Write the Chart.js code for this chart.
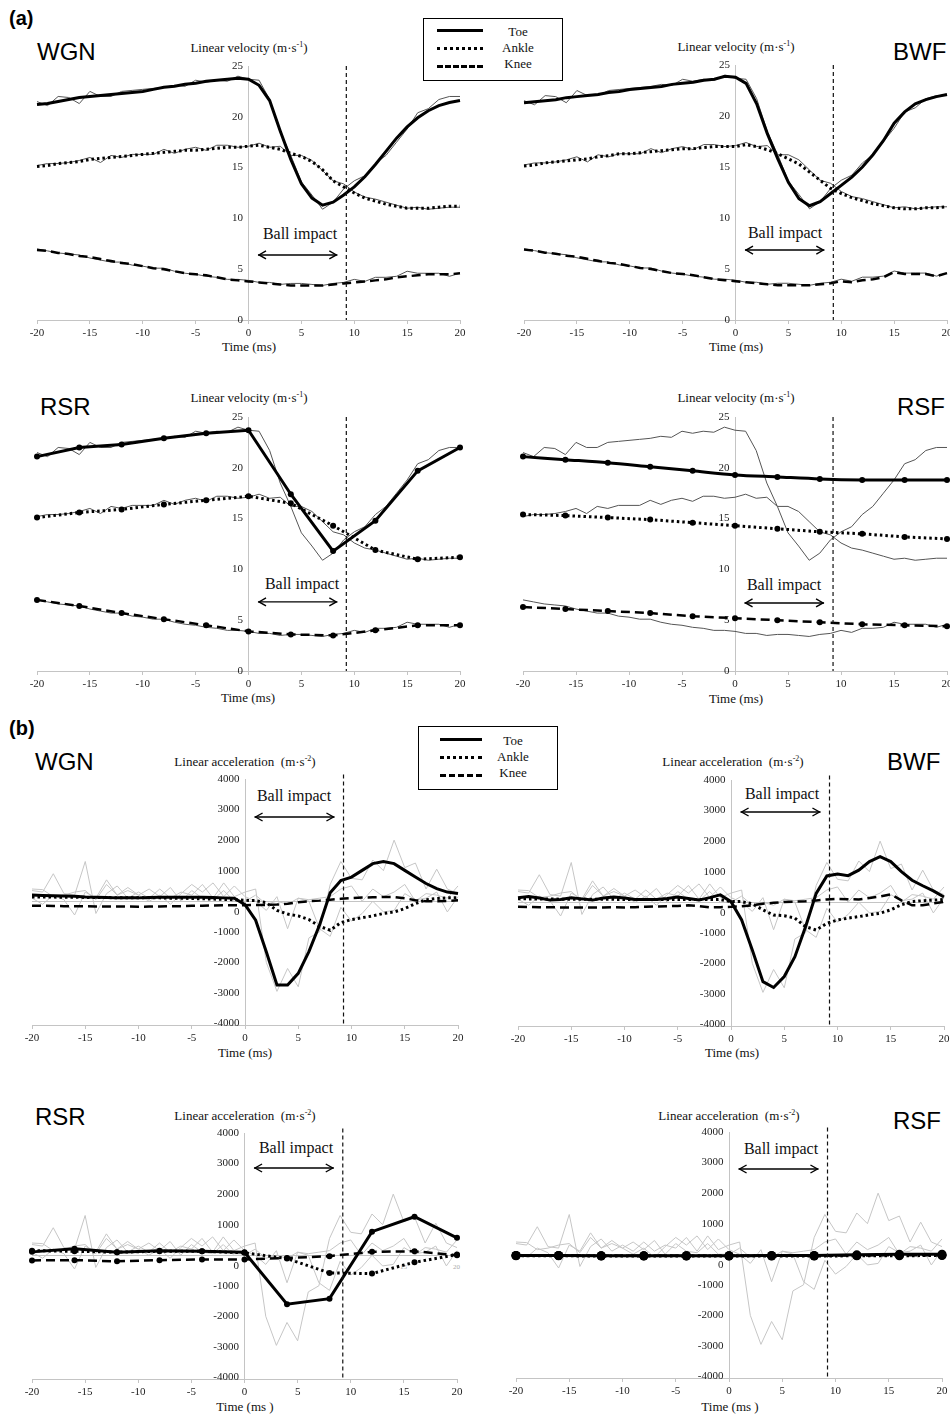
<!DOCTYPE html>
<html><head><meta charset="utf-8">
<script src="https://cdn.jsdelivr.net/npm/chart.js@4.4.1/dist/chart.umd.min.js"></script>
<style>
html,body{margin:0;padding:0;background:#fff;width:950px;height:1415px;overflow:hidden;position:relative}
canvas{position:absolute;left:0;top:0}
.t{position:absolute;white-space:nowrap;color:#111}
.serif{font-family:'Liberation Serif','Times New Roman',serif}
.c{transform:translateX(-50%)}
.ttl{font-size:13px;line-height:15px}
.ttl sup{font-size:8px;line-height:0;vertical-align:5px}
.bi{font-size:16px;line-height:18px}
.lab{font-family:'Liberation Sans',Arial,sans-serif;font-size:24px;line-height:24px;color:#000}
.ab{font-family:'Liberation Sans',Arial,sans-serif;font-weight:bold;font-size:20px;line-height:22px;color:#000}
.leg{position:absolute;border:1.5px solid #000;background:#fff;box-sizing:border-box}
.ls{position:absolute;height:0}
</style></head>
<body>
<div class="t ab" style="left:9px;top:7px">(a)</div>
<div class="t ab" style="left:9px;top:717px">(b)</div>

<div class="t lab" style="left:37px;top:40px">WGN</div>
<div class="t lab" style="left:893px;top:40px">BWF</div>
<div class="t lab" style="left:40px;top:395px">RSR</div>
<div class="t lab" style="left:897px;top:395px">RSF</div>
<div class="t lab" style="left:35px;top:750px">WGN</div>
<div class="t lab" style="left:887px;top:750px">BWF</div>
<div class="t lab" style="left:35px;top:1105px">RSR</div>
<div class="t lab" style="left:893px;top:1109px">RSF</div>

<div class="t serif ttl c" style="left:249px;top:40px">Linear velocity (m·s<sup>-1</sup>)</div>
<div class="t serif ttl c" style="left:736px;top:39px">Linear velocity (m·s<sup>-1</sup>)</div>
<div class="t serif ttl c" style="left:249px;top:390px">Linear velocity (m·s<sup>-1</sup>)</div>
<div class="t serif ttl c" style="left:736px;top:390px">Linear velocity (m·s<sup>-1</sup>)</div>
<div class="t serif ttl c" style="left:245px;top:754px">Linear acceleration&nbsp; (m·s<sup>-2</sup>)</div>
<div class="t serif ttl c" style="left:733px;top:754px">Linear acceleration&nbsp; (m·s<sup>-2</sup>)</div>
<div class="t serif ttl c" style="left:245px;top:1108px">Linear acceleration&nbsp; (m·s<sup>-2</sup>)</div>
<div class="t serif ttl c" style="left:729px;top:1108px">Linear acceleration&nbsp; (m·s<sup>-2</sup>)</div>

<div class="t serif ttl c" style="left:249px;top:339px">Time (ms)</div>
<div class="t serif ttl c" style="left:736px;top:339px">Time (ms)</div>
<div class="t serif ttl c" style="left:248px;top:690px">Time (ms)</div>
<div class="t serif ttl c" style="left:736px;top:691px">Time (ms)</div>
<div class="t serif ttl c" style="left:245px;top:1045px">Time (ms)</div>
<div class="t serif ttl c" style="left:732px;top:1045px">Time (ms)</div>
<div class="t serif ttl c" style="left:245px;top:1399px">Time (ms )</div>
<div class="t serif ttl c" style="left:730px;top:1399px">Time (ms )</div>

<div class="t serif bi c" style="left:300px;top:225px">Ball impact</div>
<div class="t serif bi c" style="left:785px;top:224px">Ball impact</div>
<div class="t serif bi c" style="left:302px;top:575px">Ball impact</div>
<div class="t serif bi c" style="left:784px;top:576px">Ball impact</div>
<div class="t serif bi c" style="left:294px;top:787px">Ball impact</div>
<div class="t serif bi c" style="left:782px;top:785px">Ball impact</div>
<div class="t serif bi c" style="left:296px;top:1139px">Ball impact</div>
<div class="t serif bi c" style="left:781px;top:1140px">Ball impact</div>

<div class="t serif" style="left:400px;top:1263px;font-size:7px;color:#aaa">15</div>
<div class="t serif" style="left:453px;top:1263px;font-size:7px;color:#aaa">20</div>

<div class="leg" style="left:423px;top:18px;width:140px;height:63px"></div>
<div class="ls" style="left:437px;top:29px;width:46px;border-top:3px solid #000"></div>
<div class="ls" style="left:437px;top:47px;width:46px;border-top:3px dotted #000"></div>
<div class="ls" style="left:437px;top:65px;width:46px;border-top:3px dashed #000"></div>
<div class="t serif ttl c" style="left:518px;top:24px">Toe</div>
<div class="t serif ttl c" style="left:518px;top:40px">Ankle</div>
<div class="t serif ttl c" style="left:518px;top:56px">Knee</div>

<div class="leg" style="left:418px;top:726px;width:140px;height:64px"></div>
<div class="ls" style="left:440px;top:738px;width:42px;border-top:3px solid #000"></div>
<div class="ls" style="left:440px;top:756px;width:42px;border-top:3px dotted #000"></div>
<div class="ls" style="left:440px;top:774px;width:42px;border-top:3px dashed #000"></div>
<div class="t serif ttl c" style="left:513px;top:733px">Toe</div>
<div class="t serif ttl c" style="left:513px;top:749px">Ankle</div>
<div class="t serif ttl c" style="left:513px;top:765px">Knee</div>

<script>
// ---------- axes / categories ----------
const timeMs = [-20,-19,-18,-17,-16,-15,-14,-13,-12,-11,-10,-9,-8,-7,-6,-5,-4,-3,-2,-1,0,1,2,3,4,5,6,7,8,9,10,11,12,13,14,15,16,17,18,19,20];
const time4 = [-20,-16,-12,-8,-4,0,4,8,12,16,20];
const xTicks = [-20,-15,-10,-5,0,5,10,15,20];
const velTicks = [0,5,10,15,20,25];
const accTicks = [-4000,-3000,-2000,-1000,0,1000,2000,3000,4000];
const impactTime = 9.25;
const arrowFrom = 0.9, arrowTo = 8.4;

// ---------- raw (unfiltered) velocity ----------
const velRawToe   = [21.5,21.1,22.0,21.9,21.3,22.5,22.0,22.0,22.5,22.6,22.7,22.8,22.9,23.1,23.0,23.6,23.4,23.6,23.5,24.0,23.7,23.6,21.7,18.5,16.2,13.6,12.3,10.9,11.6,12.9,13.7,14.2,15.4,16.2,17.5,18.8,20.4,20.8,21.7,22.0,22.0];
const velRawAnkle = [15.2,15.4,15.4,15.5,15.7,16.0,15.5,16.2,16.0,16.3,16.3,16.3,16.8,16.4,16.8,17.0,16.7,17.2,17.2,17.0,17.1,17.4,17.0,17.1,16.2,16.2,15.7,14.7,13.7,13.4,12.6,12.1,11.9,11.6,11.3,11.0,11.1,10.9,11.0,11.1,11.1];
const velRawKnee  = [7.0,6.8,6.6,6.5,6.4,6.1,5.9,5.7,5.7,5.4,5.3,5.1,5.1,4.8,4.6,4.5,4.3,4.2,4.0,4.0,3.9,3.7,3.7,3.5,3.6,3.6,3.5,3.4,3.6,3.7,4.0,3.8,4.2,4.2,4.3,4.8,4.6,4.6,4.6,4.3,4.6];

// ---------- filtered velocity ----------
const wgnVelToe   = [21.2,21.3,21.5,21.7,21.9,22.0,22.1,22.2,22.3,22.4,22.5,22.7,22.9,23.0,23.2,23.3,23.5,23.6,23.7,23.8,23.7,23.1,21.6,18.6,15.8,13.4,12.0,11.3,11.6,12.3,13.1,14.1,15.3,16.6,17.9,19.0,19.9,20.6,21.1,21.4,21.6];
const wgnVelAnkle = [15.1,15.2,15.4,15.5,15.6,15.8,15.9,16.0,16.1,16.2,16.3,16.4,16.5,16.6,16.7,16.7,16.8,16.9,17.0,17.0,17.1,17.2,17.0,16.8,16.4,16.1,15.6,14.8,13.7,13.1,12.5,12.0,11.7,11.4,11.2,11.0,11.0,11.0,11.1,11.2,11.2];
const wgnVelKnee  = [6.9,6.8,6.6,6.5,6.3,6.2,6.0,5.8,5.6,5.5,5.3,5.1,5.0,4.8,4.6,4.5,4.4,4.2,4.0,3.9,3.8,3.7,3.6,3.5,3.4,3.4,3.4,3.4,3.5,3.6,3.7,3.8,3.9,4.0,4.2,4.3,4.4,4.5,4.5,4.5,4.6];
const bwfVelToe   = [21.3,21.4,21.5,21.6,21.8,21.9,22.0,22.1,22.3,22.4,22.6,22.7,22.8,22.9,23.1,23.2,23.3,23.5,23.6,23.9,23.8,23.2,21.2,18.3,15.8,13.5,11.9,11.2,11.6,12.4,13.2,14.0,15.0,16.2,17.6,19.3,20.4,21.2,21.6,21.9,22.1];
const bwfVelAnkle = [15.1,15.2,15.4,15.5,15.6,15.7,15.8,16.0,16.1,16.3,16.3,16.4,16.5,16.6,16.7,16.8,16.8,16.9,17.0,17.0,17.0,17.2,17.0,16.7,16.3,15.8,15.3,14.5,13.7,12.9,12.4,12.0,11.7,11.4,11.2,11.0,10.9,10.9,11.0,11.0,11.1];
const bwfVelKnee  = [6.9,6.8,6.6,6.5,6.3,6.2,6.0,5.8,5.6,5.5,5.3,5.1,5.0,4.8,4.6,4.5,4.4,4.2,4.0,3.9,3.8,3.7,3.6,3.5,3.4,3.4,3.4,3.4,3.5,3.6,3.8,3.7,3.9,4.0,4.2,4.7,4.5,4.5,4.5,4.3,4.6];
const rsrVelToe   = [21.1,22.0,22.3,22.9,23.4,23.7,17.4,11.8,14.8,19.7,22.0];
const rsrVelAnkle = [15.1,15.6,15.9,16.4,16.8,17.2,16.5,14.3,11.9,11.0,11.2];
const rsrVelKnee  = [7.0,6.4,5.7,5.1,4.5,3.9,3.6,3.5,4.0,4.5,4.5];
const rsfVelToe   = [21.1,20.8,20.5,20.1,19.7,19.3,19.1,18.9,18.8,18.8,18.8];
const rsfVelAnkle = [15.4,15.3,15.1,14.9,14.6,14.3,14.0,13.7,13.5,13.2,13.0];
const rsfVelKnee  = [6.3,6.1,5.9,5.7,5.4,5.2,5.0,4.8,4.6,4.5,4.4];

// ---------- raw acceleration ----------
const accRawToe   = [350,300,900,250,200,1300,-400,250,500,100,300,100,400,100,300,200,550,100,600,150,300,400,-2000,-2950,-2200,-2800,-1200,-1000,550,1300,750,700,1350,1000,2000,1100,1250,400,1050,400,250];
const accRawAnkle = [100,-100,200,50,-450,300,100,700,200,350,200,0,200,-100,250,550,300,600,150,500,150,0,-300,150,-900,100,0,-900,-1150,-200,-650,-400,0,-350,-300,250,50,100,300,-350,150];
const accRawKnee  = [400,380,150,200,300,350,50,550,200,450,200,400,150,450,0,350,100,50,350,0,0,200,-100,0,-100,100,50,100,150,400,500,0,400,150,300,550,0,250,200,100,500];

// ---------- filtered acceleration ----------
const wgnAccToe   = [200,190,180,170,160,140,130,120,110,110,110,120,130,130,130,130,130,120,110,100,-110,-620,-1650,-2740,-2740,-2360,-1650,-780,280,680,790,1010,1230,1300,1230,1010,790,580,410,300,250];
const wgnAccAnkle = [140,140,135,130,130,125,120,120,115,115,110,110,110,100,100,90,80,70,60,50,30,20,-50,-300,-420,-480,-600,-820,-950,-700,-600,-540,-480,-400,-350,-240,-80,50,90,110,110];
const wgnAccKnee  = [-150,-150,-155,-160,-160,-165,-170,-170,-170,-175,-180,-175,-170,-165,-160,-150,-145,-140,-135,-130,-130,-125,-120,-110,-80,-30,0,20,50,80,100,120,130,140,140,100,30,0,0,10,30];
const bwfAccToe   = [150,190,140,70,90,150,110,70,140,170,140,90,90,90,120,170,120,70,150,240,20,-580,-1560,-2600,-2790,-2430,-1780,-800,290,860,920,870,1050,1330,1490,1330,1000,720,540,370,170];
const bwfAccAnkle = [110,110,105,105,100,100,100,95,95,95,90,90,90,90,90,90,90,90,90,90,20,20,-50,-250,-420,-440,-520,-800,-910,-690,-580,-520,-470,-410,-360,-250,-80,20,50,70,90];
const bwfAccKnee  = [-150,-155,-160,-165,-170,-170,-170,-170,-170,-165,-170,-160,-150,-140,-130,-120,-100,-130,-170,-160,-150,-130,-100,-50,-20,10,20,30,60,90,110,100,90,140,190,260,60,-100,-100,-40,10];
const rsrAccToe   = [110,210,100,150,130,100,-1600,-1420,770,1260,570];
const rsrAccAnkle = [150,130,100,130,130,80,-110,-580,-600,-230,20];
const rsrAccKnee  = [-170,-160,-200,-160,-140,-140,-90,-30,110,130,0];
const rsfAccToe   = [-40,-40,-50,-50,-50,-50,-40,-40,-20,0,0];
const rsfAccAnkle = [-50,-50,-60,-60,-60,-60,-60,-60,-50,-50,-40];
const rsfAccKnee  = [-40,-40,-50,-50,-50,-50,-50,-50,-40,-30,-30];

// ---------- helpers ----------
function pts(xs, ys){ return xs.map((x,i)=>({x:x, y:ys[i]})); }
const lineStyles = {
  toe:   {borderColor:'#000', borderWidth:3},
  ankle: {borderColor:'#000', borderWidth:3, borderDash:[2.5,3]},
  knee:  {borderColor:'#000', borderWidth:2.5, borderDash:[9,5]}
};
function thick(kind, xs, ys, r, tension){
  return Object.assign({data:pts(xs,ys), pointRadius:r||0, pointBackgroundColor:'#000', pointBorderColor:'#000',
    pointBorderWidth:0, tension:tension||0, fill:false, clip:12}, lineStyles[kind]);
}
function raw(xs, ys, color){
  return {data:pts(xs,ys), borderColor:color, borderWidth:1, pointRadius:0, tension:0, fill:false, clip:12};
}
const VRAW = '#555', ARAW = '#c6c6c6';
function velRaw(){ return [raw(timeMs,velRawToe,VRAW), raw(timeMs,velRawAnkle,VRAW), raw(timeMs,velRawKnee,VRAW)]; }
function accRaw(){ return [raw(timeMs,accRawToe,ARAW), raw(timeMs,accRawAnkle,ARAW), raw(timeMs,accRawKnee,ARAW)]; }

const impactPlugin = {
  id:'impact',
  afterDatasetsDraw(chart, args, o){
    const {ctx, chartArea} = chart, x = chart.scales.x, y = chart.scales.y;
    ctx.save();
    const px = x.getPixelForValue(impactTime);
    ctx.strokeStyle = '#111'; ctx.lineWidth = 1.2; ctx.setLineDash([4,3]);
    ctx.beginPath(); ctx.moveTo(px, y.getPixelForValue(o.lineTop)); ctx.lineTo(px, chartArea.bottom); ctx.stroke();
    ctx.setLineDash([]);
    const ay = y.getPixelForValue(o.arrowY);
    const x1 = x.getPixelForValue(arrowFrom), x2 = x.getPixelForValue(arrowTo);
    ctx.lineWidth = 1.4; ctx.strokeStyle = '#000';
    ctx.beginPath(); ctx.moveTo(x1, ay); ctx.lineTo(x2, ay); ctx.stroke();
    ctx.beginPath(); ctx.moveTo(x1+8, ay-4); ctx.lineTo(x1+1, ay); ctx.lineTo(x1+8, ay+4); ctx.stroke();
    ctx.beginPath(); ctx.moveTo(x2-8, ay-4); ctx.lineTo(x2-1, ay); ctx.lineTo(x2-8, ay+4); ctx.stroke();
    ctx.restore();
  }
};

const AX = '#c4c4c4';
const tickFont = {family:"'Liberation Serif', 'Times New Roman', serif", size:11};
const yTickFont = {family:"'Liberation Serif', 'Times New Roman', serif", size:11, lineHeight:1.9};
function makeChart(p){
  const cv = document.createElement('canvas');
  cv.width = 970; cv.height = 1415;
  cv.style.width = '970px'; cv.style.height = '1415px';
  document.body.appendChild(cv);
  const isAcc = p.yTicks === accTicks;
  new Chart(cv, {
    type:'line',
    data:{datasets:p.sets},
    options:{
      responsive:false, animation:false, devicePixelRatio:1, events:[],
      layout:{padding:{left:p.area.l, top:p.area.t, right:970-p.area.r, bottom:1415-p.area.b}},
      plugins:{legend:{display:false}, tooltip:{enabled:false}, impact:{arrowY:p.arrowY, lineTop:p.lineTop}},
      scales:{
        x:{type:'linear', min:-20, max:20, position:{y:p.yMin},
          afterBuildTicks:s=>{ s.ticks = xTicks.map(v=>({value:v})); },
          ticks:{font:tickFont, color:'#222', maxRotation:0, padding:4, autoSkip:false, callback:v=>String(v)},
          grid:{drawOnChartArea:false, color:AX, tickColor:AX, tickLength:3},
          border:{color:AX, width:1}},
        y:{type:'linear', min:p.yMin, max:p.yMax, position:{x:0},
          afterBuildTicks:s=>{ s.ticks = p.yTicks.map(v=>({value:v})); },
          ticks:{font:yTickFont, color:'#222', autoSkip:false,
                 callback:v=> (isAcc && v===0) ? ['', '0\u2002'] : String(v) + '\u2002'},
          grid:{drawOnChartArea:isAcc, drawTicks:false,
                color:c=> (c.tick && c.tick.value===0) ? AX : 'rgba(0,0,0,0)'},
          border:{color:AX, width:1}}
      }
    },
    plugins:[impactPlugin]
  });
}

const panels = [
  {area:{l:37,t:66,r:460,b:320}, yMin:0, yMax:25, yTicks:velTicks, arrowY:6.4, lineTop:25,
   sets:[thick('toe',timeMs,wgnVelToe), thick('ankle',timeMs,wgnVelAnkle), thick('knee',timeMs,wgnVelKnee)].concat(velRaw())},
  {area:{l:524,t:65,r:947,b:320}, yMin:0, yMax:25, yTicks:velTicks, arrowY:6.86, lineTop:25,
   sets:[thick('toe',timeMs,bwfVelToe), thick('ankle',timeMs,bwfVelAnkle), thick('knee',timeMs,bwfVelKnee)].concat(velRaw())},
  {area:{l:37,t:417,r:460,b:671}, yMin:0, yMax:25, yTicks:velTicks, arrowY:6.8, lineTop:25,
   sets:[thick('toe',time4,rsrVelToe,3), thick('ankle',time4,rsrVelAnkle,3), thick('knee',time4,rsrVelKnee,3)].concat(velRaw())},
  {area:{l:523,t:417,r:947,b:671}, yMin:0, yMax:25, yTicks:velTicks, arrowY:6.7, lineTop:25,
   sets:[thick('toe',time4,rsfVelToe,3,0.3), thick('ankle',time4,rsfVelAnkle,3), thick('knee',time4,rsfVelKnee,3)].concat(velRaw())},
  {area:{l:32,t:779,r:458,b:1025}, yMin:-4050, yMax:4000, yTicks:accTicks, arrowY:2757, lineTop:4150,
   sets:[thick('toe',timeMs,wgnAccToe), thick('ankle',timeMs,wgnAccAnkle), thick('knee',timeMs,wgnAccKnee)].concat(accRaw())},
  {area:{l:518,t:780,r:944,b:1026}, yMin:-4050, yMax:4000, yTicks:accTicks, arrowY:2953, lineTop:4150,
   sets:[thick('toe',timeMs,bwfAccToe), thick('ankle',timeMs,bwfAccAnkle), thick('knee',timeMs,bwfAccKnee)].concat(accRaw())},
  {area:{l:32,t:1133,r:457,b:1379}, yMin:-4050, yMax:4000, yTicks:accTicks, arrowY:2855, lineTop:4150,
   sets:[thick('toe',time4,rsrAccToe,3), thick('ankle',time4,rsrAccAnkle,3), thick('knee',time4,rsrAccKnee,3)].concat(accRaw())},
  {area:{l:516,t:1132,r:942,b:1378}, yMin:-4050, yMax:4000, yTicks:accTicks, arrowY:2789, lineTop:4150,
   sets:[thick('toe',time4,rsfAccToe,4.5), thick('ankle',time4,rsfAccAnkle,4.5), thick('knee',time4,rsfAccKnee,4.5)].concat(accRaw())}
];
panels.forEach(makeChart);
</script>
</body></html>
